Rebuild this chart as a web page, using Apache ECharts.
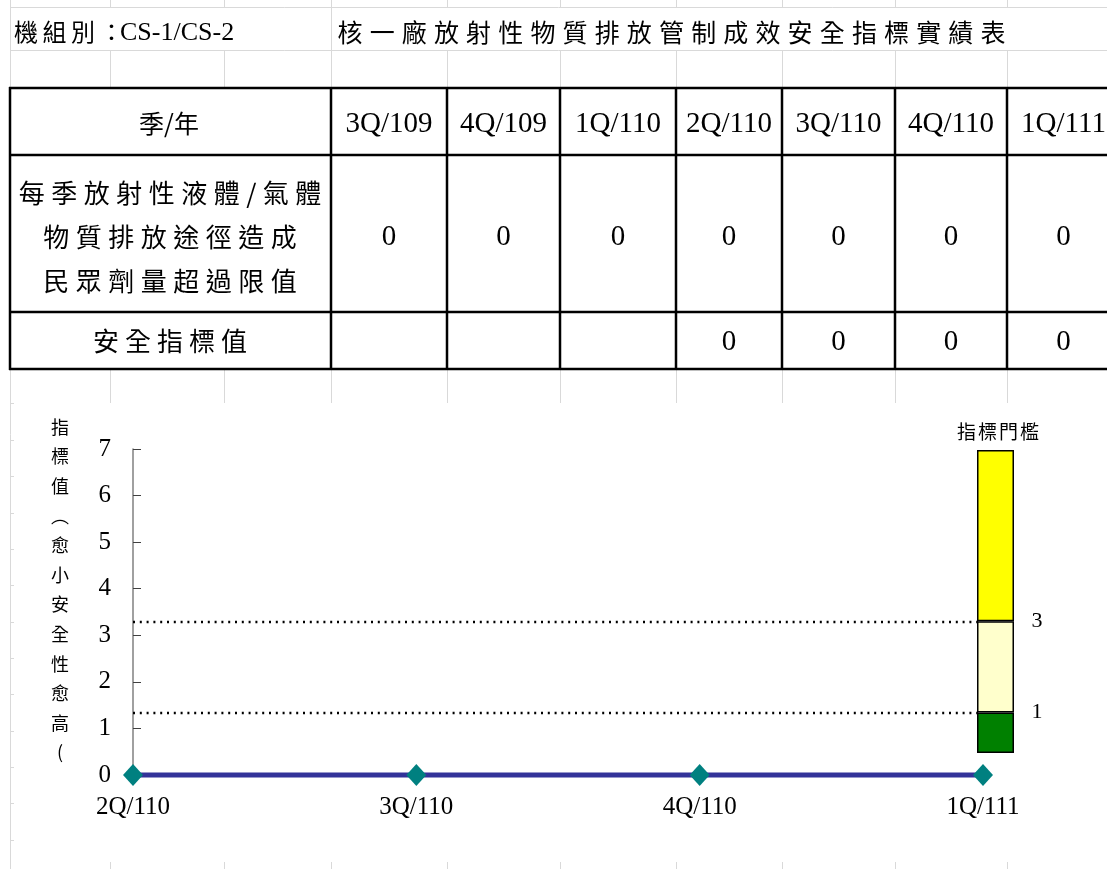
<!DOCTYPE html>
<html><head><meta charset="utf-8">
<script src="https://cdn.jsdelivr.net/npm/echarts@6/dist/echarts.min.js"></script>
<style>html,body{margin:0;padding:0;background:#fff}#c{width:1107px;height:869px}</style>
</head><body><div id="c"></div>
<script>
// ---------- data ----------
const unitLabel = '機組別：';
const unitName = 'CS-1/CS-2';
const titleText = '核一廠放射性物質排放管制成效安全指標實績表';
const headerLabel = '季/年';
const rowLabelLines = ['每季放射性液體/氣體', '物質排放途徑造成', '民眾劑量超過限值'];
const indicatorLabel = '安全指標值';
const tableQuarters = ['3Q/109', '4Q/109', '1Q/110', '2Q/110', '3Q/110', '4Q/110', '1Q/111'];
const exceedValues = [0, 0, 0, 0, 0, 0, 0];
const indicatorValues = [null, null, null, 0, 0, 0, 0];
const chartQuarters = ['2Q/110', '3Q/110', '4Q/110', '1Q/111'];
const chartValues = [0, 0, 0, 0];
const yAxisTitleChars = ['指', '標', '值', '︵', '愈', '小', '安', '全', '性', '愈', '高', '('];
const thresholdTitle = '指標門檻';
const thresholdBounds = [0.47, 1.34, 3.3, 6.98]; // bottom, green|light, light|yellow, top (axis units)
const thresholdLabels = ['1', '3'];
const guideLevels = [3.28, 1.34];

// ---------- layout ----------
const CJK = "'Noto Sans CJK TC'";
const SERIF = "'Liberation Serif'";
const light = '#d9d9d9';
const colX = [10, 110, 224, 331, 447, 560, 676, 782, 895, 1007, 1120];
const G = [];
function line(x1, y1, x2, y2, color, w, z) {
  G.push({type: 'line', silent: true, z: z || 0, shape: {x1, y1, x2, y2}, style: {stroke: color, lineWidth: w}});
}
function txt(text, x, y, size, family, align) {
  const a = align || 'center';
  G.push({type: 'text', silent: true, z: 10, x, y,
    style: {text, fontSize: size, fontFamily: family, fill: '#000',
      align: a, verticalAlign: 'middle', textAlign: a, textVerticalAlign: 'middle'}});
}
function w(ch) { return /[\u0000-\u00ff]/.test(ch) ? 0.5 : 1; }
function spacedCenter(str, cx, y, pitch, size) {
  const chars = [...str];
  const total = chars.reduce((s, c) => s + w(c), 0) * pitch;
  let cur = cx - total / 2;
  chars.forEach(c => { const cw = w(c) * pitch; txt(c, cur + cw / 2, y, size, CJK); cur += cw; });
}
function spacedLeft(str, firstCenter, y, pitch, size) {
  [...str].forEach((c, i) => txt(c, firstCenter + i * pitch, y, size, CJK));
}

// light spreadsheet gridlines
line(10.5, 0, 10.5, 869, light, 1);
for (let i = 1; i <= 9; i++) line(colX[i] + 0.5, 0, colX[i] + 0.5, 7, light, 1);
line(10, 7.5, 1107, 7.5, light, 1);
line(10, 50.5, 1107, 50.5, light, 1);
line(331.5, 7, 331.5, 50, light, 1);
for (let i = 1; i <= 9; i++) line(colX[i] + 0.5, 50, colX[i] + 0.5, 88, light, 1);
for (let i = 1; i <= 9; i++) line(colX[i] + 0.5, 369, colX[i] + 0.5, 403, light, 1);
[403, 440, 476, 513, 549, 585, 622, 658, 694, 731, 767, 803, 840].forEach(y => line(10, y + 0.5, 14, y + 0.5, light, 1));
for (let i = 1; i <= 9; i++) line(colX[i] + 0.5, 862, colX[i] + 0.5, 869, light, 1);

// thick table borders
[88, 155, 312, 369].forEach(y => line(9, y, 1107, y, '#000', 2.5, 5));
[10, 331, 447, 560, 676, 782, 895, 1007].forEach(x => line(x, 87, x, 370, '#000', 2.5, 5));

// row 1 texts
spacedLeft(unitLabel, 26, 32, 28.5, 24);
txt(unitName, 120, 33, 26, SERIF, 'left');
spacedLeft(titleText, 350, 32, 32.15, 25);

// table texts
txt(headerLabel, 169, 123, 25, CJK);
rowLabelLines.forEach((s, i) => spacedCenter(s, 170, 193 + i * 44, 32.5, 26));
spacedCenter(indicatorLabel, 170, 341, 32, 26);
tableQuarters.forEach((q, i) => {
  const cx = (colX[3 + i] + colX[4 + i]) / 2;
  txt(q, cx, 124, 29, SERIF);
  txt(String(exceedValues[i]), cx, 237, 29, SERIF);
  if (indicatorValues[i] !== null) txt(String(indicatorValues[i]), cx, 342, 29, SERIF);
});

// chart side texts
yAxisTitleChars.forEach((c, i) => txt(c, 60, 427 + i * 29.6, 18, CJK));
spacedCenter(thresholdTitle, 998, 432, 21, 19);

// threshold stacked segments
const seg = [thresholdBounds[0]];
for (let i = 1; i < thresholdBounds.length; i++) seg.push(+(thresholdBounds[i] - thresholdBounds[i - 1]).toFixed(3));
const segColors = ['transparent', '#008000', '#FFFFCC', '#FFFF00'];
const segLabels = [null, thresholdLabels[0], thresholdLabels[1], null];
const thresholdSeries = seg.map((v, i) => ({
  type: 'bar', xAxisIndex: 1, yAxisIndex: 1, stack: 'th', barWidth: '100%', silent: true, z: 6,
  data: [v],
  itemStyle: i === 0 ? {color: 'transparent'} : {color: segColors[i], borderColor: '#000', borderWidth: 1.5},
  label: segLabels[i] ? {show: true, formatter: segLabels[i], position: [60, 0], align: 'center', verticalAlign: 'middle',
    color: '#000', fontSize: 22, fontFamily: SERIF} : {show: false},
  emphasis: {disabled: true}
}));

const chart = echarts.init(document.getElementById('c'), null, {renderer: 'canvas'});
chart.setOption({
  animation: false,
  backgroundColor: '#fff',
  grid: [
    {left: 133, top: 449, width: 850, height: 326, containLabel: false, outerBoundsMode: 'none'},
    {left: 977, top: 449, width: 37, height: 326, containLabel: false, outerBoundsMode: 'none'}
  ],
  xAxis: [
    {type: 'category', gridIndex: 0, data: chartQuarters, boundaryGap: false,
      axisLine: {show: true, lineStyle: {color: '#808080', width: 1}},
      axisTick: {show: false}, splitLine: {show: false},
      axisLabel: {color: '#000', fontFamily: SERIF, fontSize: 25, margin: 20}},
    {type: 'category', gridIndex: 1, data: [thresholdTitle], show: false, boundaryGap: true}
  ],
  yAxis: [
    {type: 'value', gridIndex: 0, min: 0, max: 7, interval: 1,
      axisLine: {show: true, lineStyle: {color: '#808080', width: 1.5}},
      axisTick: {show: true, inside: true, length: 8, lineStyle: {color: '#404040', width: 1}},
      splitLine: {show: false},
      axisLabel: {color: '#000', fontFamily: SERIF, fontSize: 25, margin: 22}},
    {type: 'value', gridIndex: 1, min: 0, max: 7, show: false}
  ],
  series: [
    {type: 'line', xAxisIndex: 0, yAxisIndex: 0, data: chartValues, clip: false, z: 4,
      symbol: 'diamond', symbolSize: [20, 22],
      itemStyle: {color: '#008080'}, lineStyle: {color: '#333399', width: 5},
      emphasis: {disabled: true},
      markLine: {silent: true, symbol: 'none', label: {show: false},
        lineStyle: {color: '#000', type: [2, 4.8], width: 2.4},
        data: guideLevels.map(v => ({yAxis: v}))}}
  ].concat(thresholdSeries),
  graphic: G
});
</script>
</body></html>
